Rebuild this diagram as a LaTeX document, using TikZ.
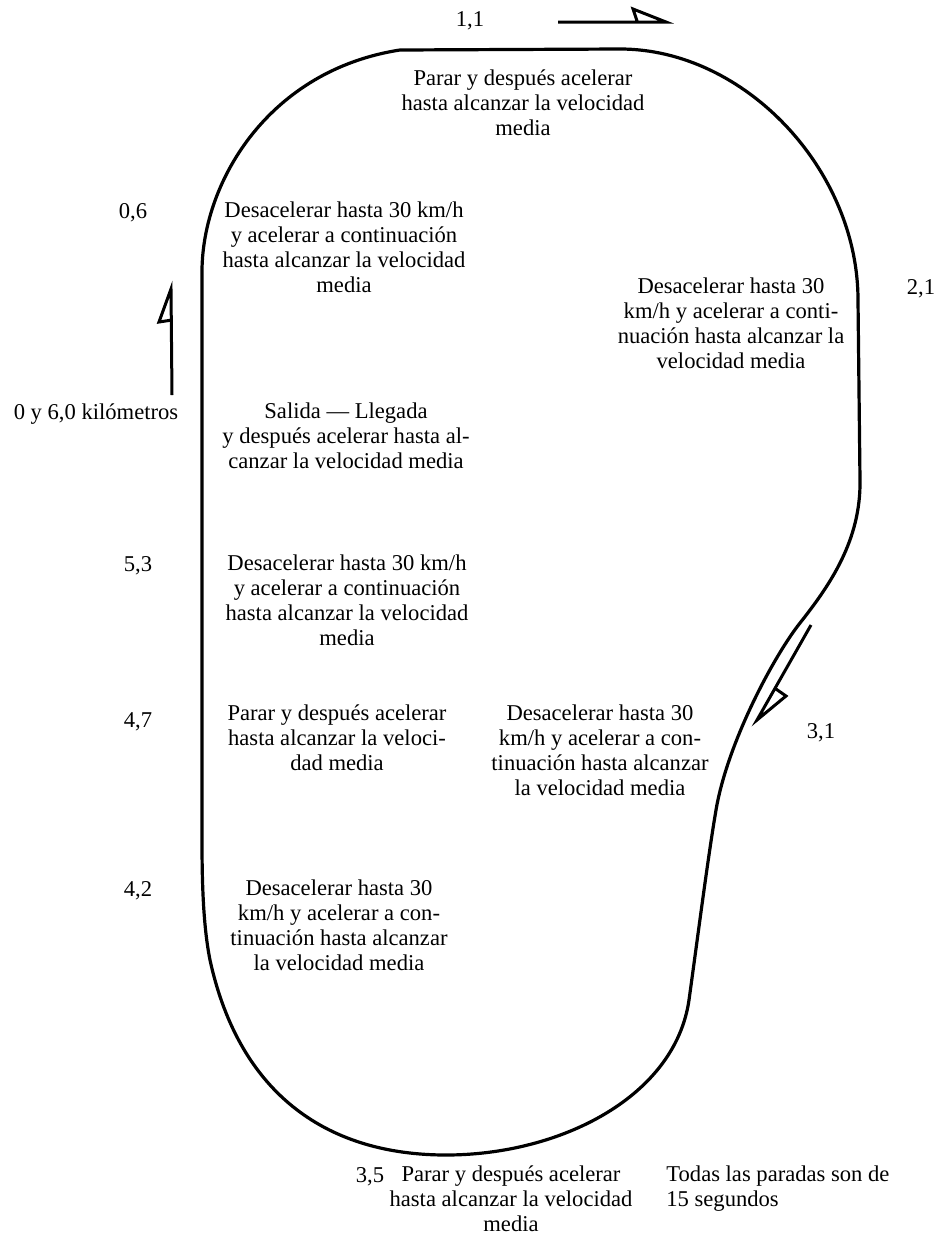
\documentclass[tikz,border=0pt]{standalone}
\usepackage{fontspec}
\setmainfont{Liberation Serif}
\usetikzlibrary{positioning}

\begin{document}
\begin{tikzpicture}[
    x=0.5pt, y=-0.5pt,
    font=\fontsize{11.3}{12.5}\selectfont,
    % Estilos
    track/.style={
        draw=black,
        line width=1.6pt,
        line join=round
    },
    dirarrow/.style={
        draw=black,
        line width=1.5pt,
        line join=miter
    },
    kmlabel/.style={
        anchor=north,
        inner sep=0pt,
        execute at begin node=\strut
    },
    notebox/.style={
        anchor=north,
        align=center,
        inner sep=0pt,
        execute at begin node=\strut
    }
]
    \useasboundingbox (0,0) rectangle (936,1238);

    % ==========================================
    % 1. CIRCUITO
    % ==========================================
    \draw[track] (202,270)
        .. controls (203,180) and (270,70) .. (400,50)
        -- (620,49)
        .. controls (745,49) and (858,170) .. (858,300)
        -- (860,480)
        .. controls (861,540) and (830,585) .. (800,623)
        .. controls (776,653) and (728,740) .. (716,810)
        .. controls (708,857) and (698,935) .. (689,1000)
        .. controls (675,1097) and (560,1155) .. (446,1155)
        .. controls (330,1155) and (240,1097) .. (210,960)
        .. controls (203,925) and (202,880) .. (202,840)
        -- cycle;

    % ==========================================
    % 2. FLECHAS DE SENTIDO
    % ==========================================
    % Arriba (1,1)
    \coordinate (toptail) at (558,22);
    \coordinate (toptip) at (666,22);
    \draw[dirarrow] (toptail) -- (toptip) -- (633,9) -- (637,21);
    % Izquierda (salida)
    \coordinate (lefttail) at (172,395);
    \coordinate (lefttip) at (171,289);
    \draw[dirarrow] (lefttail) -- (lefttip) -- (159,322) -- (172,320);
    % Derecha (3,1)
    \coordinate (righttail) at (811,625);
    \coordinate (righttip) at (757,720);
    \draw[dirarrow] (righttail) -- (righttip) -- (786,696) -- (776,689);

    % ==========================================
    % 3. PUNTOS KILOMETRICOS
    % ==========================================
    \node[kmlabel] (km11) at (470,9) {1,1};
    \node[kmlabel] (km06) at (133,201) {0,6};
    \node[kmlabel] (km21) at (921,277) {2,1};
    \node[kmlabel] (km00) at (96,402) {0 y 6,0 kilómetros};
    \node[kmlabel] (km53) at (138,554) {5,3};
    \node[kmlabel] (km47) at (138,710) {4,7};
    \node[kmlabel] (km31) at (821,721) {3,1};
    \node[kmlabel] (km42) at (138,879) {4,2};
    \node[kmlabel] (km35) at (370,1165) {3,5};

    % ==========================================
    % 4. INSTRUCCIONES
    % ==========================================
    \node[notebox] (stoptop) at (523,69)
        {Parar y después acelerar\\hasta alcanzar la velocidad\\media};
    \node[notebox] (slowa) at (344,201)
        {Desacelerar hasta 30 km/h\\y acelerar a continuación\\hasta alcanzar la velocidad\\media};
    \node[notebox] (slowb) at (731,277)
        {Desacelerar hasta 30\\km/h y acelerar a conti-\\nuación hasta alcanzar la\\velocidad media};
    \node[notebox] (start) at (346,402)
        {Salida — Llegada\\y después acelerar hasta al-\\canzar la velocidad media};
    \node[notebox] (slowc) at (347,554)
        {Desacelerar hasta 30 km/h\\y acelerar a continuación\\hasta alcanzar la velocidad\\media};
    \node[notebox] (stopleft) at (337,704)
        {Parar y después acelerar\\hasta alcanzar la veloci-\\dad media};
    \node[notebox] (slowd) at (600,704)
        {Desacelerar hasta 30\\km/h y acelerar a con-\\tinuación hasta alcanzar\\la velocidad media};
    \node[notebox] (slowe) at (339,879)
        {Desacelerar hasta 30\\km/h y acelerar a con-\\tinuación hasta alcanzar\\la velocidad media};
    \node[notebox] (stopbottom) at (511,1165)
        {Parar y después acelerar\\hasta alcanzar la velocidad\\media};
    \node[notebox, align=left, anchor=north west] (stopnote) at (666,1165)
        {Todas las paradas son de\\15 segundos};

\end{tikzpicture}
\end{document}
